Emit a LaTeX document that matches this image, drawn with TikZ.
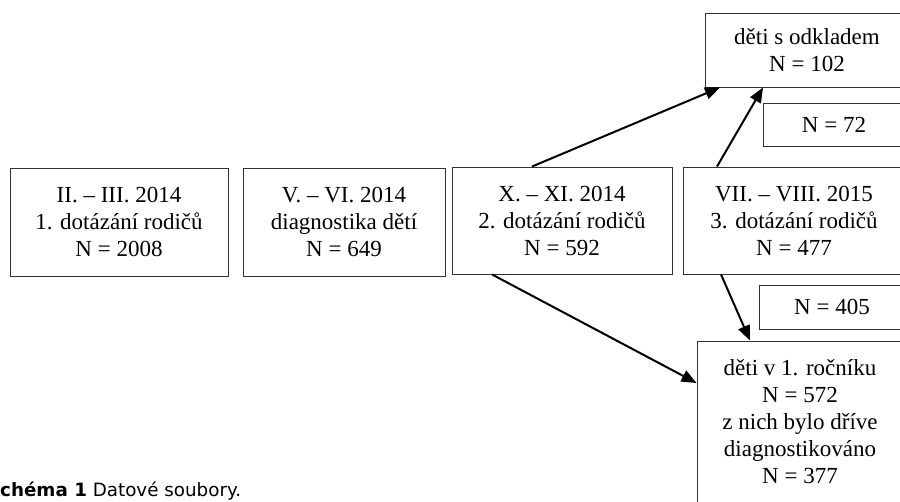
\documentclass[tikz,border=0pt]{standalone}
\usepackage{fontspec}
\setmainfont{Liberation Serif}
\newfontfamily\capfont{DejaVu Sans}
\usetikzlibrary{arrows.meta,calc}
\begin{document}
\begin{tikzpicture}[x=1pt,y=-1pt,
  box/.style={draw=black!80, line width=0.9pt, align=center, inner sep=0pt,
    font=\fontsize{23}{27}\selectfont},
  conn/.style={line width=2pt, -{Triangle[length=15pt,width=12pt]}}]
\useasboundingbox (0,0) rectangle (900,501);
\clip (0,0) rectangle (900,501);
\fill[white] (0,0) rectangle (900,501);
\node[box, minimum width=218pt, minimum height=108pt] (b1) at (119,222)
  {II. – III. 2014\\1. dotázání rodičů\\N = 2008};
\node[box, minimum width=202pt, minimum height=108pt] (b2) at (344,222)
  {V. – VI. 2014\\diagnostika dětí\\N = 649};
\node[box, minimum width=220pt, minimum height=107pt] (b3) at (562,220.5)
  {X. – XI. 2014\\2. dotázání rodičů\\N = 592};
\node[box, minimum width=222pt, minimum height=107pt] (b4) at (794,220.5)
  {VII. – VIII. 2015\\3. dotázání rodičů\\N = 477};
\node[box, minimum width=204pt, minimum height=74pt] (top) at (807,50)
  {děti s odkladem\\N = 102};
\node[box, minimum width=142pt, minimum height=43pt] (n72) at (834,124.5)
  {N = 72};
\node[box, minimum width=146pt, minimum height=44pt] (n405) at (832,307)
  {N = 405};
\node[box, minimum width=206pt, minimum height=162pt] (bot) at (800,422)
  {děti v 1. ročníku\\N = 572\\z nich bylo dříve\\diagnostikováno\\N = 377};
\draw[conn] ([xshift=-30pt]b3.north) -- ([xshift=-87pt]top.south);
\draw[conn] ([xshift=-77pt]b4.north) -- ([xshift=-44pt]top.south);
\draw[conn] ([xshift=-70pt]b3.south) -- ([yshift=39pt]bot.west);
\draw[conn] ([xshift=-73pt]b4.south) -- ([xshift=-50pt]bot.north);
\node[anchor=base west, inner sep=0pt, font=\capfont\fontsize{18.3}{21}\selectfont] (cap) at (-13.2,496)
  {\textbf{Schéma 1} Datové soubory.};
\end{tikzpicture}
\end{document}
